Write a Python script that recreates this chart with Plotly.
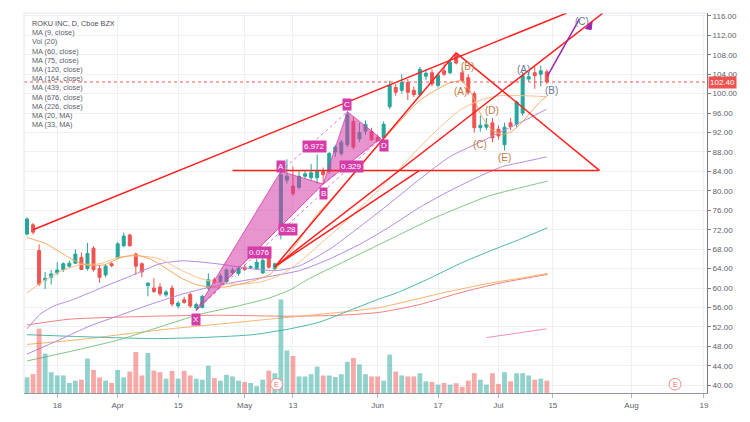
import plotly.graph_objects as go

# ---------------- data ----------------
idx = list(range(87))
opens = [71.1,73.0,67.7,61.6,62.2,63.1,63.8,64.5,65.1,66.3,64.0,68.2,64.0,62.7,65.0,66.2,68.7,70.9,67.0,65.0,
         60.5,60.0,60.2,58.6,60.0,56.3,57.6,58.7,55.9,56.0,60.0,61.7,61.3,61.3,63.2,63.0,64.3,64.2,64.0,63.1,
         67.0,64.0,71.0,82.2,81.0,80.7,83.0,82.7,82.7,84.0,84.0,88.0,87.7,89.5,94.3,90.7,92.3,92.2,91.0,91.0,
         97.3,101.3,100.7,102.3,100.7,99.8,103.6,104.3,101.7,104.7,104.3,108.0,104.3,103.3,100.0,93.0,93.1,94.0,92.7,89.5,
         94.0,93.7,96.0,103.0,104.3,104.0,104.5]
highs = [74.6,73.4,69.0,63.3,63.7,65.3,65.3,65.6,68.0,67.3,69.3,68.6,64.8,64.9,65.3,69.4,71.4,71.2,67.3,65.3,
         61.2,62.0,61.0,59.6,60.6,57.3,58.2,59.0,57.0,58.6,63.0,62.2,63.0,64.0,64.2,64.6,64.8,64.7,66.0,66.5,
         67.6,65.2,84.0,86.5,85.0,84.0,84.2,85.5,87.5,84.8,88.0,89.5,90.5,96.3,95.2,94.0,94.5,93.0,91.6,94.3,
         102.7,102.0,104.0,103.0,101.5,105.5,105.0,105.0,104.3,106.0,107.0,108.4,105.2,104.0,100.5,95.5,95.0,95.0,93.5,94.0,
         95.0,98.6,104.5,104.5,105.5,105.8,105.0]
lows = [70.8,71.0,60.4,59.8,60.7,62.7,63.3,64.2,65.0,63.7,63.6,63.4,61.1,62.2,64.3,66.0,68.4,68.5,62.7,62.2,
        58.3,59.0,58.3,58.2,56.2,55.8,56.8,55.9,55.4,55.8,59.5,60.8,60.9,61.0,62.8,62.5,63.5,63.9,63.8,62.9,
        64.0,63.6,70.0,81.5,79.0,80.3,82.5,82.2,81.5,81.4,83.5,87.0,87.2,89.0,88.5,90.0,91.5,90.3,90.2,90.6,
        96.8,99.6,100.0,98.7,99.3,99.5,102.8,101.5,101.3,103.6,104.0,106.0,102.4,99.8,92.0,92.2,92.5,90.0,90.5,88.3,
        92.5,93.0,95.5,102.5,101.0,101.5,102.0]
closes = [74.2,71.5,60.8,62.0,62.9,63.7,65.0,65.1,67.0,63.8,67.1,63.8,62.2,64.5,64.6,69.1,70.7,68.7,64.5,63.3,
          61.0,59.3,58.8,59.2,56.7,56.9,57.0,56.3,56.6,58.3,61.7,61.1,62.5,63.7,63.7,64.0,63.8,64.4,65.3,65.7,
          64.3,65.0,83.3,83.0,79.4,83.0,83.5,83.7,84.0,83.3,87.7,89.0,90.0,95.7,89.0,92.0,93.7,90.5,90.3,93.7,
          101.7,100.3,102.3,100.3,99.8,105.0,104.2,102.0,103.8,104.0,106.5,106.3,102.7,100.3,93.0,93.5,93.7,90.9,91.3,93.1,
          93.2,98.3,103.7,103.5,103.7,104.7,102.4]
volume_m = [4.8,5.8,19.8,12.1,6.4,5.4,5.4,3.1,3.8,4.1,10.6,7.1,4.8,3.8,3.1,7.1,4.8,6.6,12.6,5.4,
            12.3,6.9,6.4,4.4,6.8,4.4,6.8,5.4,4.4,4.1,8.4,4.6,3.8,5.6,5.1,3.8,3.4,3.1,2.1,4.1,
            6.9,6.1,28.8,13.1,11.4,5.1,5.1,5.8,8.1,5.4,5.4,4.9,5.8,9.6,10.8,8.8,5.8,5.1,5.1,3.8,
            11.8,6.6,5.4,5.1,5.1,6.1,3.6,3.4,2.6,3.1,2.6,3.0,1.9,3.8,6.1,4.1,2.6,6.1,2.8,6.4,
            3.6,6.1,6.1,5.4,4.1,4.4,3.8]
last_price = 102.40

tick_idx = [5, 15, 25, 36, 44, 58, 68, 78, 87, 100, 112]
tick_text = ["18", "Apr", "15", "May", "13", "Jun", "17", "Jul", "15", "Aug", "19"]
price_ticks = list(range(40, 117, 4))

# moving averages (bar index, price)
ma_orange_fast_x = [0,2.98,5.45,7.93,10.41,12.89,15.37,17.85,20.33,22.81,25.29,27.77,30.25,32.73,35.21,37.69,40.17,42.64,45.12,47.6,50.08,52.56,55.04,57.52,60.0,62.48,64.96,67.44,69.92,71.9,73.55,75.2,76.86,78.51,80.17,81.82,83.47,85.12,85.95]
ma_orange_fast_y = [70.4,69.2,67.4,65.6,64.6,64.8,66.2,66.8,66.0,64.2,62.2,60.8,60.2,60.2,60.8,61.6,62.8,66.0,70.0,74.6,78.0,81.4,85.0,88.6,92.0,95.4,98.6,100.6,102.2,102.6,100.0,95.4,92.6,91.6,92.2,94.0,96.4,98.6,99.4]
ma_orange_mid_x = [0,2.98,5.45,8.76,12.07,15.37,18.68,21.98,25.29,28.6,31.9,35.21,38.51,41.82,45.12,48.43,51.74,55.04,58.35,61.65,64.96,68.26,71.57,74.88,78.18,81.49,85.95]
ma_orange_mid_y = [59.0,61.6,63.4,64.8,65.0,66.4,66.6,66.0,63.8,62.0,61.0,60.8,61.2,62.6,65.4,69.0,72.6,76.4,80.4,84.6,89.0,93.0,96.6,98.6,99.6,99.6,99.4]
ma_purple_up_x = [0,2.15,4.63,7.11,9.92,12.56,17.02,21.98,25.79,31.4,36.86,41.32,45.12,50.08,55.04,60.0,64.96,69.92,74.88,79.83,83.14,85.95]
ma_purple_up_y = [51.6,54.6,56.4,57.4,58.8,60.2,62.4,65.0,65.6,65.0,64.0,63.6,64.6,68.0,72.6,77.4,82.4,87.0,90.0,93.0,95.0,96.8]
ma_purple_lo_x = [0,5.45,10.41,15.37,20.33,25.29,30.25,35.21,40.17,45.12,50.08,55.04,60.0,64.96,69.92,74.88,78.68,82.31,85.95]
ma_purple_lo_y = [46.4,49.4,52.2,54.4,56.6,58.6,60.2,61.4,62.4,63.6,66.0,69.0,72.6,76.6,80.0,83.0,85.0,86.0,87.0]
ma_green_x = [0,8.76,15.37,21.98,28.6,35.21,40.17,43.47,46.78,51.74,56.69,61.65,66.61,71.57,76.53,81.49,86.12]
ma_green_y = [45.0,47.4,49.4,52.0,54.6,56.4,58.0,59.6,62.0,65.0,68.0,71.0,74.0,76.6,79.0,80.6,82.0]
ma_teal_x = [0,8.76,20.83,28.6,37.36,43.47,48.43,53.39,58.35,61.16,66.61,71.57,76.53,81.49,86.12]
ma_teal_y = [50.4,50.0,49.6,49.8,50.4,51.6,53.0,55.4,57.8,59.0,62.0,65.0,67.6,70.0,72.4]
ma_orange_slow_x = [0,8.76,15.37,23.64,31.9,43.47,51.74,58.35,68.76,76.53,81.49,86.12]
ma_orange_slow_y = [48.4,49.4,50.4,51.6,52.6,54.0,55.0,56.0,59.0,61.0,62.0,63.0]
ma_salmon_x = [0,7.11,20.83,31.9,43.47,51.74,58.35,64.96,71.57,78.18,86.12]
ma_salmon_y = [52.4,53.6,54.2,54.4,54.2,54.4,55.0,56.6,59.0,61.0,62.8]
ma_pink_x = [76.03,85.95]
ma_pink_y = [49.8,51.6]

# drawings (bar index, price)
channel_x, channel_y = [1.0, 89.3], [72.0, 116.6]
support_x, support_y = [34.0, 94.7], [84.2, 84.2]
down_x, down_y = [71.0, 94.7], [108.4, 84.2]
fan1_x, fan1_y = [41.0, 71.0], [64.4, 108.4]
fan2_x, fan2_y = [41.0, 95.3], [64.4, 116.6]
fan3_x, fan3_y = [41.0, 64.96], [64.4, 84.2]
proj_x, proj_y = [86.1, 91.4], [103.6, 115.4]

pat_names = ["X", "A", "B", "C", "D"]
pat_x = [28.0, 42.0, 49.0, 53.0, 58.5]
pat_y = [55.4, 84.0, 81.4, 96.3, 90.8]
ratio_text = ["0.076", "6.972", "0.329", "0.28"]

# ---------------- figure ----------------
W, H = 750, 422
ML, MR, MT, MB = 24, 42, 12, 20
PW, PH = W - ML - MR, H - MT - MB

def pp(px, py):
    return (px - ML) / PW, (H - MB - py) / PH

fig = go.Figure()

vcol = ["rgba(38,166,154,0.5)" if c >= o else "rgba(239,83,80,0.5)" for o, c in zip(opens, closes)]
fig.add_trace(go.Bar(x=idx, y=volume_m, marker=dict(color=vcol, line=dict(width=0)),
                     width=0.8, yaxis="y2", hoverinfo="skip"))

def line(xs, ys, color, width=1, dash=None):
    fig.add_trace(go.Scatter(x=xs, y=ys, mode="lines",
                             line=dict(color=color, width=width, dash=dash, shape="spline", smoothing=0.6),
                             hoverinfo="skip"))

line(ma_pink_x, ma_pink_y, "#f48fb1")
line(ma_salmon_x, ma_salmon_y, "#f28080")
line(ma_orange_slow_x, ma_orange_slow_y, "#f9b36b")
line(ma_teal_x, ma_teal_y, "#4db6ac")
line(ma_green_x, ma_green_y, "#81c784")
line(ma_purple_lo_x, ma_purple_lo_y, "#b48ae6")
line(ma_purple_up_x, ma_purple_up_y, "#b48ae6")
line(ma_orange_mid_x, ma_orange_mid_y, "#fbc08a")
line(ma_orange_fast_x, ma_orange_fast_y, "#f9a65a")

# harmonic pattern triangles
PINK = "#d63ca8"
for a, b, c in [(0, 1, 2), (2, 3, 4)]:
    fig.add_trace(go.Scatter(x=[pat_x[a], pat_x[b], pat_x[c], pat_x[a]],
                             y=[pat_y[a], pat_y[b], pat_y[c], pat_y[a]],
                             mode="lines", fill="toself", fillcolor="rgba(214,60,168,0.55)",
                             line=dict(color="rgba(214,60,168,0.8)", width=1), hoverinfo="skip"))
for a, b in [(0, 2), (1, 3), (2, 4), (0, 4)]:
    fig.add_trace(go.Scatter(x=[pat_x[a], pat_x[b]], y=[pat_y[a], pat_y[b]], mode="lines",
                             line=dict(color="rgba(214,60,168,0.7)", width=1, dash="dot"), hoverinfo="skip"))

fig.add_trace(go.Candlestick(x=idx, open=opens, high=highs, low=lows, close=closes,
                             increasing=dict(line=dict(color="#26a69a", width=1), fillcolor="#26a69a"),
                             decreasing=dict(line=dict(color="#ef5350", width=1), fillcolor="#ef5350"),
                             whiskerwidth=0, hoverinfo="skip"))

RED = "#ff1f1f"
for xs, ys in [(channel_x, channel_y), (support_x, support_y), (down_x, down_y),
               (fan1_x, fan1_y), (fan2_x, fan2_y), (fan3_x, fan3_y)]:
    fig.add_trace(go.Scatter(x=xs, y=ys, mode="lines", line=dict(color=RED, width=1.5), hoverinfo="skip"))
fig.add_trace(go.Scatter(x=proj_x, y=proj_y, mode="lines", line=dict(color="#9c27b0", width=1.5), hoverinfo="skip"))

ann = []
FONT = "Liberation Sans"
# pattern point labels
offs = [(0, -9), (0, 5), (0, -9), (0, 7), (3, -7)]
for n, x, y, (dx, dy) in zip(pat_names, pat_x, pat_y, offs):
    ann.append(dict(x=x, y=y, text=n, showarrow=False, xshift=dx, yshift=dy, bgcolor=PINK,
                    xanchor="center", yanchor="middle",
                    font=dict(color="white", size=8, family=FONT), borderpad=1))
mids = [(0, 2), (1, 3), (2, 4), (0, 4)]
for t, (a, b) in zip(ratio_text, mids):
    ann.append(dict(x=(pat_x[a] + pat_x[b]) / 2, y=(pat_y[a] + pat_y[b]) / 2, text=t, showarrow=False,
                    xanchor="center", yanchor="middle", yshift=-5,
                    bgcolor=PINK, font=dict(color="white", size=8, family=FONT), borderpad=1))

BROWN = "#c27a3e"
GRAYB = "#6b7894"
for t, px, py, col in [("(B)", 468, 67, BROWN), ("(A)", 461, 93, BROWN), ("(D)", 493, 112, BROWN),
                       ("(C)", 481, 147, BROWN), ("(E)", 505, 160, BROWN),
                       ("(A)", 524, 70, GRAYB), ("(B)", 552, 92, GRAYB), ("(C)", 583, 21, GRAYB)]:
    x, y = pp(px, py)
    ann.append(dict(x=x, y=y, xref="paper", yref="paper", text=t, showarrow=False,
                    xanchor="center", yanchor="middle",
                    font=dict(color=col, size=10, family=FONT)))

# legend text
legend_lines = ["ROKU INC, D, Cboe BZX", "MA (9, close)", "Vol (20)", "MA (60, close)", "MA (75, close)",
                "MA (120, close)", "MA (164, close)", "MA (439, close)", "MA (676, close)", "MA (226, close)",
                "MA (20, MA)", "MA (33, MA)"]
for k, t in enumerate(legend_lines):
    x, y = pp(30, 22.7 + k * 9.45)
    ann.append(dict(x=x, y=y, xref="paper", yref="paper", text=t, showarrow=False,
                    xanchor="left", yanchor="middle",
                    font=dict(color="#5d606b" if k else "#4a4d57", size=7.3, family=FONT)))

# last price label
ann.append(dict(x=1, xref="paper", y=last_price, xanchor="left", yanchor="middle",
                text=f"{last_price:.2f}", showarrow=False,
                bgcolor="#ef5350", font=dict(color="white", size=8, family=FONT), borderpad=1,
                xshift=1))

# earnings markers
shapes = []
for px, py in [(277, 393), (676, 393)]:
    x0, y0 = pp(px - 6, py + 6)
    x1, y1 = pp(px + 6, py - 6)
    shapes.append(dict(type="circle", xref="paper", yref="paper", x0=x0, x1=x1, y0=y0, y1=y1,
                       line=dict(color="#f08a8a", width=1), fillcolor="white"))
    x, y = pp(px, py)
    ann.append(dict(x=x, y=y, xref="paper", yref="paper", text="E", showarrow=False,
                    xanchor="center", yanchor="middle",
                    font=dict(color="#e57373", size=7, family=FONT)))

shapes.append(dict(type="line", xref="paper", yref="y", x0=0, x1=1, y0=last_price, y1=last_price,
                   line=dict(color="#ef5350", width=1, dash="dot")))
# light chart border (top / left)
shapes.append(dict(type="line", xref="paper", yref="paper", x0=0, x1=1, y0=1, y1=1,
                   line=dict(color="#e3e6ee", width=1)))
shapes.append(dict(type="line", xref="paper", yref="paper", x0=0, x1=0, y0=0, y1=1,
                   line=dict(color="#e3e6ee", width=1)))
# small purple arrow tip near (C)
a1, a2, a3 = pp(586, 28), pp(593, 21), pp(592, 29)
shapes.append(dict(type="path", xref="paper", yref="paper",
                   path=f"M {a1[0]} {a1[1]} L {a2[0]} {a2[1]} L {a3[0]} {a3[1]} Z",
                   fillcolor="#9c27b0", line=dict(color="#9c27b0", width=1)))

fig.update_layout(
    width=W, height=H, margin=dict(l=ML, r=MR, t=MT, b=MB),
    paper_bgcolor="white", plot_bgcolor="white", showlegend=False,
    font=dict(family=FONT, size=8, color="#5d606b"),
    xaxis=dict(range=[-0.5, 112.5], tickvals=tick_idx, ticktext=tick_text, showgrid=True,
               gridcolor="#edf0f5", zeroline=False, ticks="outside", ticklen=4, tickcolor="#b2b5be",
               showline=True, linecolor="#9598a1", rangeslider=dict(visible=False),
               tickfont=dict(size=8, color="#5d606b")),
    yaxis=dict(range=[38.4, 116.6], side="right", tickvals=price_ticks, tickformat=".2f",
               showgrid=True, gridcolor="#edf0f5", zeroline=False, ticks="outside", ticklen=3,
               tickcolor="#787b86", showline=True, linecolor="#787b86",
               tickfont=dict(size=8, color="#5d606b")),
    yaxis2=dict(range=[0, 117], overlaying="y", visible=False),
    annotations=ann, shapes=shapes,
)
fig.write_html("out.html")
